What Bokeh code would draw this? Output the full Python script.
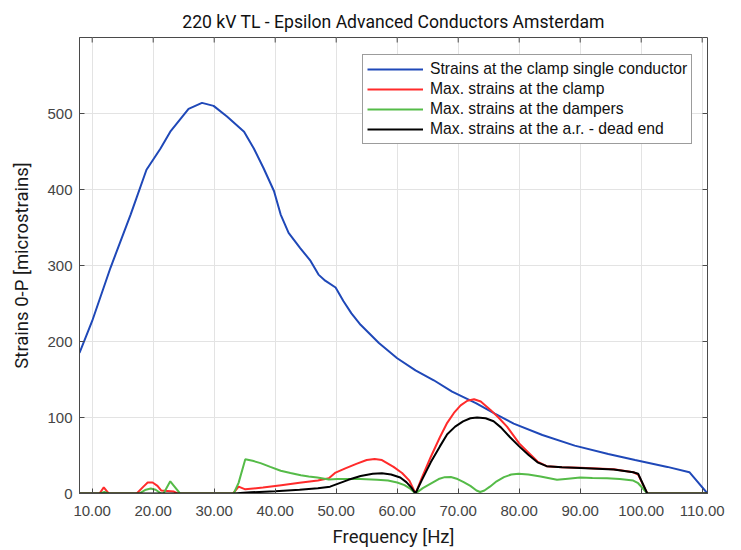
from bokeh.plotting import figure
from bokeh.models import Range1d, FixedTicker, Legend, LegendItem, CustomJSTickFormatter
from bokeh.embed import file_html
from bokeh.resources import INLINE

# ---------------- data ----------------
blue_f = [7.92, 10.0, 13.0, 16.3, 18.9, 21.2, 22.8, 25.8, 28.0, 29.9, 32.1, 34.9, 36.5,
          38.1, 39.8, 40.9, 42.2, 44.1, 45.8, 47.1, 48.2, 49.9, 51.2, 52.5, 54.0, 57.0,
          60.0, 63.0, 66.0, 69.0, 72.9, 76.0, 79.1, 83.8, 89.1, 94.6, 99.0, 104.3, 107.9, 110.87]
blue_v = [185, 227, 297, 367, 426, 454, 476, 506, 514, 510, 496, 476, 454,
          428, 398, 367, 343, 323, 306, 288, 280, 271, 253, 237, 222, 198,
          178, 162, 149, 134, 119, 105, 92, 77, 63, 52, 44, 35, 28, 0]

red_f = [7.92, 11.2, 11.9, 12.7, 17.3, 18.4, 19.1, 19.9, 20.7, 21.3, 23.4, 24.0, 33.1, 34.0,
         35.1, 38.0, 41.0, 44.0, 47.0, 48.8, 49.9, 51.5, 53.3, 55.0, 56.3, 57.5, 59.4, 60.8,
         62.0, 63.0, 64.0, 65.5, 67.0, 68.2, 69.3, 70.4, 71.5, 72.6, 73.7, 75.3, 76.6, 78.0,
         80.0, 81.5, 83.0, 84.5, 87.0, 90.0, 95.5, 98.7, 99.5, 101.0, 110.87]
red_v = [0, 0, 8, 0, 0, 9, 14.5, 14.5, 10, 4, 2.5, 0, 0, 9,
         5.5, 8, 11, 14, 17, 20, 27.5, 33, 39, 44, 45.5, 44, 35, 27,
         17, 0, 20, 48, 74, 93, 106, 116, 122, 124, 121, 110, 100, 88,
         66, 54, 42, 36, 34.5, 34, 32, 28, 25, 0, 0]

green_f = [7.92, 11.3, 12.0, 12.7, 17.7, 18.8, 19.6, 20.4, 21.3, 21.7, 22.8, 24.4, 33.2, 34.0,
           35.1, 36.3, 37.6, 39.2, 40.9, 42.5, 44.2, 45.5, 46.9, 48.8, 50.2, 52.0, 54.0, 56.7,
           58.5, 60.0, 61.2, 62.2, 63.0, 64.2, 65.5, 66.8, 67.8, 68.8, 69.9, 70.9, 72.0, 73.0,
           73.6, 74.3, 75.2, 76.3, 77.5, 78.7, 79.9, 81.5, 83.5, 86.2, 88.0, 90.0, 92.0, 94.4,
           96.5, 98.7, 99.5, 101.0, 110.87]
green_v = [0, 0, 2, 0, 0, 5, 6.5, 5, 0, 0, 16, 0, 0, 14,
           45, 43, 40, 35, 30, 27, 24, 22.5, 21, 18.5, 19, 19, 19, 18,
           17, 14.5, 11, 6, 0, 7, 13, 19, 21.5, 21.6, 19, 15, 10, 4,
           2, 4, 9, 16, 21.5, 25, 26, 25, 22.5, 18, 19.5, 21, 20.5, 20,
           19, 17, 13.5, 0, 0]

black_f = [7.92, 33.1, 36.0, 40.0, 44.0, 47.0, 49.0, 50.0, 52.0, 54.0, 56.0, 57.5, 59.0,
           60.5, 61.5, 62.3, 63.0, 64.0, 65.5, 67.0, 68.2, 69.5, 70.8, 72.0, 73.1, 74.5,
           75.8, 77.0, 78.5, 80.0, 81.5, 83.0, 84.5, 87.0, 90.0, 95.5, 98.7, 99.5, 101.0, 110.87]
black_v = [0, 0, 1.5, 3, 5, 7, 9, 12, 18, 23, 26, 26.5, 25,
           21, 15, 8, 0, 17, 41, 62, 78, 88, 95, 99, 100, 99,
           95, 87, 74, 62, 51, 41, 36, 34.5, 33.5, 31.5, 28, 26, 0, 0]

x_min, x_max = 7.92, 110.87
y_min, y_max = 0, 600
x_ticks = [10, 20, 30, 40, 50, 60, 70, 80, 90, 100, 110]
y_ticks = [0, 100, 200, 300, 400, 500]

title_text = "220 kV TL - Epsilon Advanced Conductors Amsterdam"
x_label = "Frequency [Hz]"
y_label = "Strains 0-P [microstrains]"
series_labels = ["Strains at the clamp single conductor",
                 "Max. strains at the clamp",
                 "Max. strains at the dampers",
                 "Max. strains at the a.r. - dead end"]

# ---------------- figure ----------------
AX = "#4a4a4a"
p = figure(width=741, height=550, output_backend="svg", toolbar_location=None,
           x_range=Range1d(x_min, x_max), y_range=Range1d(y_min, y_max),
           min_border_left=79, min_border_right=34, min_border_top=37, min_border_bottom=57,
           title=title_text)
p.title.align = "center"
p.title.text_font = "Roboto"
p.title.text_font_size = "17.6px"
p.title.text_font_style = "normal"
p.title.text_color = "#111111"
p.title.standoff = 12

p.outline_line_color = AX
p.outline_line_width = 1
p.background_fill_color = "white"
p.border_fill_color = "white"

p.xaxis.ticker = FixedTicker(ticks=x_ticks)
p.yaxis.ticker = FixedTicker(ticks=y_ticks)
p.xaxis.formatter = CustomJSTickFormatter(code="return tick.toFixed(2);")
for ax in (p.xaxis[0], p.yaxis[0]):
    ax.axis_line_color = AX
    ax.major_tick_line_color = AX
    ax.major_tick_in = 5
    ax.major_tick_out = 0
    ax.minor_tick_line_color = None
    ax.major_label_text_font = "Liberation Sans"
    ax.major_label_text_font_size = "15px"
    ax.major_label_text_color = "#444444"
    ax.axis_label_text_font = "Roboto"
    ax.axis_label_text_font_size = "18.5px"
    ax.axis_label_text_font_style = "normal"
    ax.axis_label_text_color = "#1a1a1a"

p.xaxis.axis_label = x_label
p.xaxis.major_label_standoff = 12
p.xaxis.axis_label_standoff = 7
p.yaxis.axis_label = y_label
p.yaxis.major_label_standoff = 7
p.yaxis.axis_label_standoff = 11

p.xgrid.ticker = FixedTicker(ticks=x_ticks)
p.ygrid.ticker = FixedTicker(ticks=y_ticks)
p.grid.grid_line_color = "#e3e3e3"
p.grid.grid_line_width = 1

# inward box ticks on the top and right edges
p.scatter(x_ticks, [y_max] * len(x_ticks), marker="dash", angle=1.5708, size=10,
          line_color=AX, line_width=1)
p.scatter([x_max] * len(y_ticks), y_ticks, marker="dash", size=10,
          line_color=AX, line_width=1)

# ---------------- lines ----------------
r_blue = p.line(blue_f, blue_v, line_color="#1f48b8", line_width=2)
r_red = p.line(red_f, red_v, line_color="#ff2b2b", line_width=2)
r_green = p.line(green_f, green_v, line_color="#55bb48", line_width=2)
r_black = p.line(black_f, black_v, line_color="#000000", line_width=2)

legend = Legend(items=[LegendItem(label=series_labels[0], renderers=[r_blue]),
                       LegendItem(label=series_labels[1], renderers=[r_red]),
                       LegendItem(label=series_labels[2], renderers=[r_green]),
                       LegendItem(label=series_labels[3], renderers=[r_black])],
                location=(283, 349))
legend.margin = 0
legend.padding = 4
legend.spacing = 0
legend.glyph_width = 56
legend.glyph_height = 20
legend.label_height = 20
legend.label_standoff = 7
legend.label_text_font = "Liberation Sans"
legend.label_text_font_size = "15.7px"
legend.label_text_color = "#111111"
legend.border_line_color = "#3a3a3a"
legend.border_line_width = 1
legend.background_fill_alpha = 1
p.add_layout(legend, "center")

open("out.html", "w").write(file_html(p, INLINE))
